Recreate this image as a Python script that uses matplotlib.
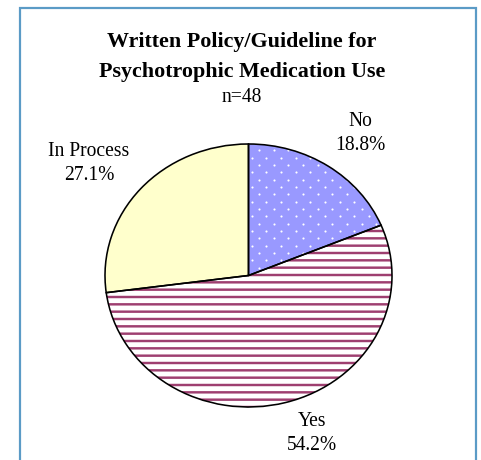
import numpy as np
import matplotlib
matplotlib.use("Agg")
import matplotlib.pyplot as plt
from matplotlib.patches import Rectangle

# data
labels = ["No", "Yes", "In Process"]
counts = [9, 26, 13]          # n=48
pct_text = ["18.8%", "54.2%", "27.1%"]
face_colors = ["#9999ff", "#ffffff", "#ffffcc"]
hatch_colors = ["#9999ff", "#9e3f70", "#ffffcc"]
hatches = ["", "--", ""]

W, H, DPI = 481, 460, 88
plt.rcParams["hatch.linewidth"] = 2.0
plt.rcParams["font.family"] = ["Liberation Serif", "DejaVu Serif"]

fig = plt.figure(figsize=(W / DPI, H / DPI), dpi=DPI)

def fx(x):
    return x / W

def fy(y):
    return 1 - y / H

# pie box in pixels (slightly stretched, like the original)
left, right, top, bottom = 105, 392, 144, 407
ax = fig.add_axes([fx(left), fy(bottom), (right - left) / W, (bottom - top) / H])

wedges, _ = ax.pie(counts, startangle=90, counterclock=False, colors=face_colors,
                   wedgeprops=dict(linewidth=0))
for w, hc, h in zip(wedges, hatch_colors, hatches):
    w.set_edgecolor(hc)
    w.set_hatch(h)
    w.set_linewidth(0)

# white dot pattern on the "No" slice (rows ~7px apart, staggered)
px_x = 2 / (right - left)
px_y = 2 / (bottom - top)
dots_x, dots_y = [], []
for i, yy in enumerate(np.arange(-1, 1, 7.33 * px_y)):
    off = 0 if i % 2 == 0 else 7.33 * px_x
    for xx in np.arange(-1 + off, 1, 14.66 * px_x):
        dots_x.append(xx)
        dots_y.append(yy)
dots = ax.scatter(dots_x, dots_y, s=3, c="white", linewidths=0, zorder=3)
dots.set_clip_path(wedges[0])

ax.pie(counts, startangle=90, counterclock=False,
       wedgeprops=dict(fill=False, edgecolor="black", linewidth=1.3, zorder=4))
ax.set_aspect("auto")
ax.set_xlim(-1.0, 1.0)
ax.set_ylim(-1.0, 1.0)
ax.axis("off")

# frame
fig.add_artist(Rectangle((fx(20), -0.1), (476 - 20) / W, fy(8) + 0.1, transform=fig.transFigure,
                         fill=False, edgecolor="#5b9bc6", linewidth=1.8))

# titles
fig.text(fx(242), fy(42), "Written Policy/Guideline for", ha="center", va="center",
         fontsize=18, fontweight="bold")
fig.text(fx(242), fy(72), "Psychotrophic Medication Use", ha="center", va="center",
         fontsize=18, fontweight="bold")
fig.text(fx(242), fy(98), "n=48", ha="center", va="center", fontsize=16)

# labels
label_pos = [(360, 122), (312, 422), (89, 152)]
for lab, pt, (x, y) in zip(labels, pct_text, label_pos):
    fig.text(fx(x), fy(y), lab, ha="center", va="center", fontsize=16)
    fig.text(fx(x), fy(y + 24), pt, ha="center", va="center", fontsize=16)

fig.savefig("out.png", dpi=DPI)
